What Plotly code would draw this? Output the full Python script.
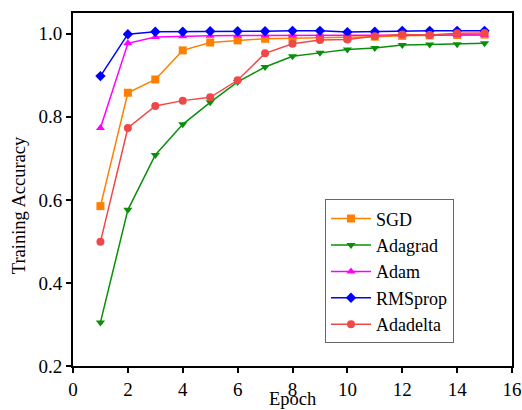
import plotly.graph_objects as go

epochs = list(range(1, 16))
sgd = [0.585, 0.858, 0.890, 0.960, 0.979, 0.984, 0.988, 0.989, 0.990, 0.991, 0.993, 0.995, 0.996, 0.997, 0.998]
adagrad = [0.305, 0.576, 0.708, 0.782, 0.835, 0.884, 0.920, 0.946, 0.954, 0.962, 0.966, 0.973, 0.974, 0.975, 0.977]
adam = [0.773, 0.977, 0.992, 0.994, 0.995, 0.996, 0.996, 0.996, 0.996, 0.996, 0.996, 0.997, 0.997, 0.997, 0.997]
rmsprop = [0.898, 0.999, 1.005, 1.005, 1.006, 1.006, 1.006, 1.007, 1.007, 1.004, 1.005, 1.007, 1.007, 1.007, 1.007]
adadelta = [0.499, 0.773, 0.826, 0.839, 0.847, 0.888, 0.953, 0.976, 0.985, 0.986, 0.994, 0.998, 0.997, 1.001, 1.002]

series = [
    ("SGD", sgd, "#ff8000", "square"),
    ("Adagrad", adagrad, "#0a8f0a", "triangle-down"),
    ("Adam", adam, "#ff00ff", "triangle-up"),
    ("RMSprop", rmsprop, "#0000ff", "diamond"),
    ("Adadelta", adadelta, "#f04848", "circle"),
]

fig = go.Figure()
for name, vals, color, sym in series:
    fig.add_trace(go.Scatter(
        x=epochs, y=vals, name=name, mode="lines+markers",
        line=dict(color=color, width=1.5),
        marker=dict(symbol=sym, size=8, color=color),
    ))

font = "Liberation Serif"
fig.update_layout(
    width=522, height=410,
    margin=dict(l=73, r=10, t=13, b=44, autoexpand=False),
    plot_bgcolor="white", paper_bgcolor="white",
    font=dict(family=font, size=19, color="black"),
    showlegend=True,
    legend=dict(
        x=0.574, y=0.472, xanchor="left", yanchor="top",
        bordercolor="#666666", borderwidth=1, bgcolor="white",
        font=dict(family=font, size=18, color="black"), tracegroupgap=0,
        itemwidth=40,
    ),
    annotations=[
        dict(text="Epoch", xref="paper", yref="paper", x=0.5, y=-0.1246,
             xanchor="center", yanchor="bottom", showarrow=False, borderpad=0,
             font=dict(family=font, size=18.5, color="black")),
        dict(text="Training Accuracy", xref="paper", yref="paper", x=-0.121, y=0.455,
             xanchor="center", yanchor="middle", showarrow=False, textangle=-90,
             font=dict(family=font, size=18.5, color="black")),
    ],
)
fig.update_xaxes(
    range=[0, 16], tickvals=list(range(0, 17, 2)),
    tickfont=dict(family=font, size=19, color="black"),
    showline=True, linecolor="black", linewidth=2, mirror=True,
    ticks="outside", ticklen=5, tickwidth=1.5, tickcolor="black",
    showgrid=False, zeroline=False, automargin=False,
)
fig.update_yaxes(
    range=[0.2, 1.05], tickvals=[0.2, 0.4, 0.6, 0.8, 1.0], tickformat=".1f",
    tickfont=dict(family=font, size=19, color="black"),
    showline=True, linecolor="black", linewidth=2, mirror=True,
    ticks="outside", ticklen=5, tickwidth=1.5, tickcolor="black",
    showgrid=False, zeroline=False, automargin=False,
)
fig.write_html("out.html")
